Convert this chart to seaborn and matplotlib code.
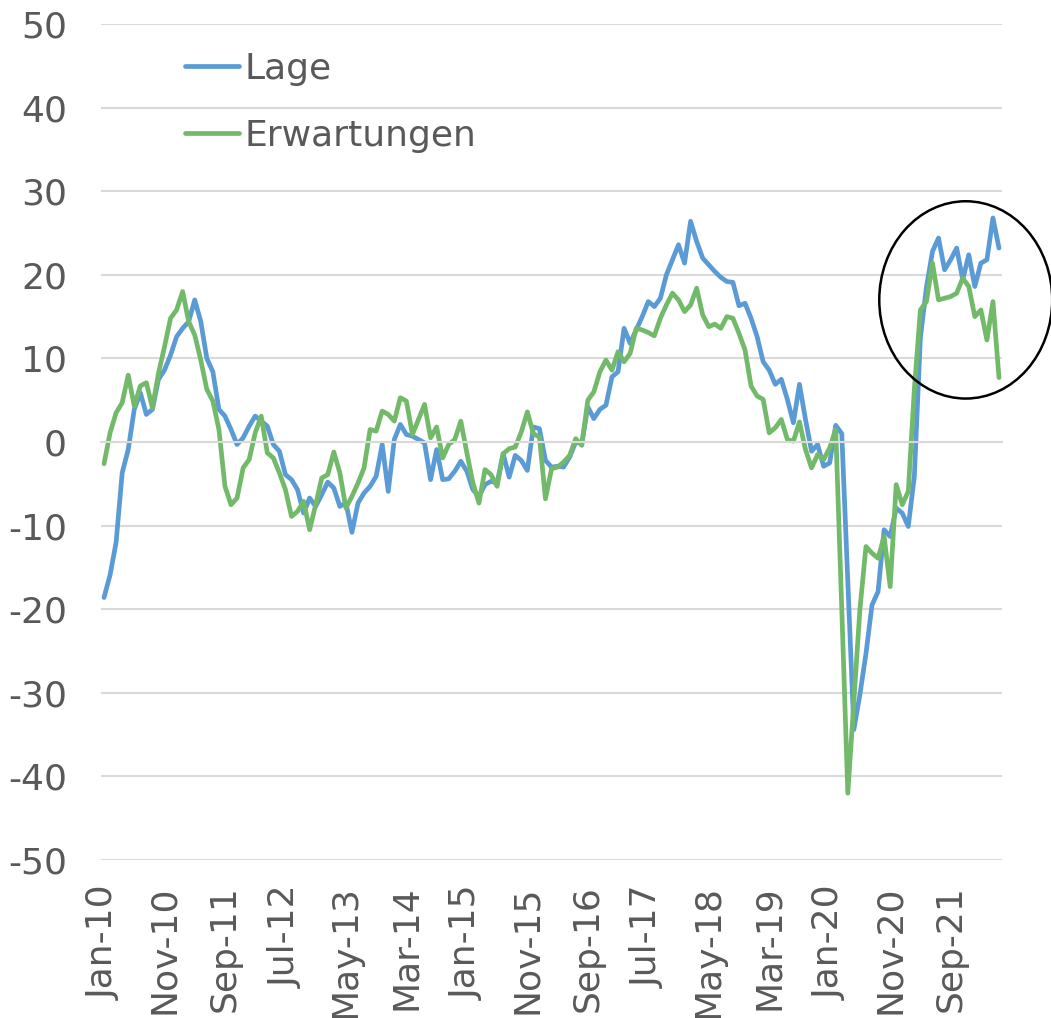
import numpy as np
import pandas as pd
import matplotlib
matplotlib.use("Agg")
import matplotlib.pyplot as plt
import seaborn as sns
from matplotlib.patches import Ellipse

# ---------------- data ----------------
months = pd.date_range("2010-01-01", periods=149, freq="MS")

lage = [
    -18.6, -15.9, -12.0, -3.7, -0.9, 3.9, 5.9, 3.3, 3.9, 7.5,
    8.6, 10.4, 12.6, 13.6, 14.4, 17.0, 14.4, 10.0, 8.4, 3.9,
    3.1, 1.5, -0.3, 0.5, 1.9, 3.1, 2.5, 1.9, -0.3, -1.1,
    -3.9, -4.5, -5.7, -8.5, -6.7, -7.7, -6.3, -4.8, -5.5, -7.7,
    -7.3, -10.8, -7.3, -6.1, -5.3, -4.1, -0.3, -5.9, 0.3, 2.1,
    0.9, 0.7, 0.3, -0.1, -4.5, -0.9, -4.5, -4.4, -3.5, -2.3,
    -3.5, -5.7, -6.5, -5.1, -4.7, -4.9, -1.4, -4.2, -1.6, -2.2,
    -3.4, 1.8, 1.6, -2.2, -3.0, -2.9, -3.0, -1.8, 0.0, -0.2,
    4.2, 2.8, 3.9, 4.4, 7.8, 8.4, 13.6, 11.8, 13.4, 15.0,
    16.8, 16.2, 17.2, 20.0, 21.8, 23.6, 21.4, 26.4, 24.0, 22.0,
    21.2, 20.4, 19.7, 19.2, 19.1, 16.3, 16.6, 14.8, 12.6, 9.6,
    8.6, 6.9, 7.5, 5.1, 2.3, 6.9, 2.7, -1.1, -0.3, -2.9,
    -2.5, 2.0, 1.0, -16.7, -34.4, -30.2, -25.3, -19.5, -17.9, -10.5,
    -11.3, -7.9, -8.5, -10.1, -4.1, 12.5, 18.5, 22.8, 24.4, 20.6,
    21.8, 23.2, 19.4, 22.4, 18.6, 21.4, 21.8, 26.8, 23.2,
]

erwartungen = [
    -2.6, 1.1, 3.5, 4.7, 8.0, 4.3, 6.7, 7.1, 4.1, 8.2,
    11.4, 14.8, 15.8, 18.0, 14.4, 12.8, 9.8, 6.3, 4.9, 1.5,
    -5.3, -7.5, -6.7, -3.1, -2.1, 1.1, 3.1, -1.3, -1.9, -3.7,
    -5.7, -8.9, -8.3, -7.1, -10.5, -7.5, -4.3, -3.9, -1.2, -3.7,
    -7.9, -6.5, -4.9, -3.1, 1.5, 1.3, 3.7, 3.3, 2.5, 5.3,
    4.9, 0.9, 2.7, 4.5, 0.5, 1.8, -1.9, -0.3, 0.3, 2.5,
    -1.3, -4.9, -7.3, -3.3, -3.9, -5.3, -1.4, -0.8, -0.6, 1.2,
    3.6, 1.0, 0.6, -6.8, -3.2, -3.0, -2.4, -1.6, 0.4, -0.4,
    5.0, 6.0, 8.4, 9.8, 8.6, 10.8, 9.6, 10.6, 13.6, 13.4,
    13.1, 12.7, 14.8, 16.4, 17.8, 17.0, 15.6, 16.4, 18.4, 15.2,
    13.8, 14.1, 13.6, 15.0, 14.8, 13.0, 11.0, 6.7, 5.5, 5.1,
    1.1, 1.7, 2.7, 0.3, 0.1, 2.4, -0.9, -3.1, -1.5, -2.1,
    -0.7, 1.5, -20.0, -42.0, -31.0, -20.0, -12.5, -13.3, -13.9, -11.3,
    -17.3, -5.1, -7.5, -5.9, 6.3, 15.8, 16.8, 21.4, 17.0, 17.2,
    17.4, 17.8, 19.6, 18.6, 15.0, 15.8, 12.2, 16.8, 7.7,
]

series_names = ["Lage", "Erwartungen"]
series_colors = ["#5B9BD5", "#72BA6A"]

tick_labels = ["Jan-10", "Nov-10", "Sep-11", "Jul-12", "May-13", "Mar-14",
               "Jan-15", "Nov-15", "Sep-16", "Jul-17", "May-18", "Mar-19",
               "Jan-20", "Nov-20", "Sep-21"]
tick_step = 10
y_ticks = [-50, -40, -30, -20, -10, 0, 10, 20, 30, 40, 50]

# ---------------- styling ----------------
sns.set_theme(style="white")
plt.rcParams["font.family"] = ["DejaVu Sans"]
plt.rcParams["axes.unicode_minus"] = False
text_color = "#595959"
grid_color = "#D9D9D9"
fs = 26

n = len(months)
idx = np.arange(n)
df = pd.DataFrame({"idx": idx, "Lage": lage, "Erwartungen": erwartungen})
df_long = df.melt(id_vars="idx", value_vars=series_names,
                  var_name="Serie", value_name="Wert")

fig = plt.figure(figsize=(10.51, 10.18), dpi=100)
ax = fig.add_axes([0.0961, 0.1552, 0.8573, 0.8212])

sns.lineplot(data=df_long, x="idx", y="Wert", hue="Serie",
             hue_order=series_names,
             palette=dict(zip(series_names, series_colors)),
             linewidth=3.4, sort=False, ax=ax, legend=True)
for ln in ax.lines:
    ln.set_solid_capstyle("round")
    ln.set_solid_joinstyle("round")

ax.set_xlim(-0.5, n - 0.5)
ax.set_ylim(min(y_ticks), max(y_ticks))

# horizontal gridlines
ax.set_yticks(y_ticks)
ax.set_yticklabels([str(v) for v in y_ticks], fontsize=fs, color=text_color)
ax.yaxis.grid(True, color=grid_color, linewidth=1.5)
ax.xaxis.grid(False)
ax.set_axisbelow(True)
ax.tick_params(axis="y", length=0, pad=24.5)

for s in ["top", "right", "left"]:
    ax.spines[s].set_visible(False)

# category axis line at zero with tick marks between categories
ax.spines["bottom"].set_position(("data", 0))
ax.spines["bottom"].set_color(grid_color)
ax.spines["bottom"].set_linewidth(1.5)
boundaries = np.arange(0, n, tick_step) - 0.5
ax.set_xticks(boundaries)
ax.set_xticklabels([])
ax.tick_params(axis="x", direction="out", length=9, width=1.2,
               color=grid_color)
ax.set_xlabel("")
ax.set_ylabel("")

# category labels at the bottom
sec = ax.secondary_xaxis("bottom")
sec.set_xticks(np.arange(0, n, tick_step)[:len(tick_labels)])
sec.set_xticklabels(tick_labels, rotation=90, fontsize=fs, color=text_color,
                    ha="center", va="top")
sec.tick_params(axis="x", length=0, pad=18)
sec.spines["bottom"].set_visible(False)

# legend
handles, labels = ax.get_legend_handles_labels()
leg = ax.legend(handles, labels, loc="upper left",
                bbox_to_anchor=(0.093, 0.967), frameon=False,
                fontsize=fs, handlelength=1.5, handletextpad=0.15,
                labelspacing=0.92, borderpad=0, borderaxespad=0)
for t in leg.get_texts():
    t.set_color(text_color)
for h in leg.legend_handles:
    h.set_linewidth(3.4)
    h.set_solid_capstyle("round")

# highlight ellipse around the latest values
ell = Ellipse((142.5, 17.0), width=28.6, height=23.6, fill=False,
              edgecolor="black", linewidth=1.8, clip_on=False, zorder=5)
ax.add_patch(ell)

fig.savefig("out.png", dpi=100)
